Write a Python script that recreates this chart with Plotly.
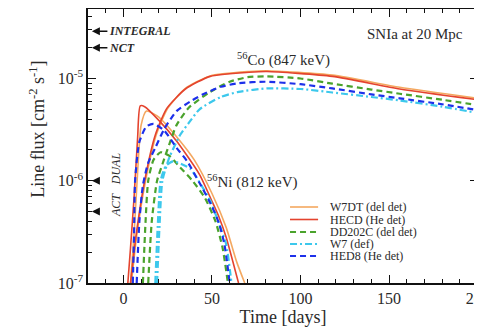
import math
import plotly.graph_objects as go

# ---------------- data ----------------
# W7DT (del det) - orange solid
w7dt_ni_t = [4, 6, 8, 10, 13, 20, 30, 40, 50, 58, 64, 68.5]
w7dt_ni_f = [1.0e-7, 3.0e-7, 1.2e-6, 3.5e-6, 4.8e-6, 4.2e-6, 2.7e-6, 1.6e-6, 7.5e-7, 3.5e-7, 1.6e-7, 1.0e-7]
w7dt_co_t = [4.5, 7.5, 12.5, 18.5, 25, 35, 49, 71, 81, 118, 156, 200]
w7dt_co_f = [1.0e-7, 2.9e-7, 1.0e-6, 2.8e-6, 5.1e-6, 8.0e-6, 1.06e-5, 1.17e-5, 1.19e-5, 1.08e-5, 8.2e-6, 6.4e-6]

# HECD (He det) - red solid
hecd_ni_t = [2.5, 4, 6, 8, 9.5, 12, 20, 30, 43, 50, 54, 58, 63, 65]
hecd_ni_f = [1.0e-7, 2.2e-7, 6.8e-7, 2.6e-6, 5.4e-6, 5.3e-6, 3.9e-6, 2.45e-6, 1.15e-6, 6.3e-7, 4.4e-7, 2.8e-7, 1.35e-7, 1.0e-7]
hecd_co_t = [4, 7, 12, 18, 24.5, 35, 49, 71, 81, 118, 156, 200]
hecd_co_f = [1.0e-7, 2.8e-7, 1.0e-6, 2.8e-6, 5.1e-6, 7.9e-6, 1.05e-5, 1.15e-5, 1.17e-5, 1.05e-5, 7.9e-6, 6.2e-6]

# DD202C (del det) - green dashed
dd_ni_t = [11, 12.5, 14, 17, 21, 26, 32, 39, 46, 52, 56, 59]
dd_ni_f = [1.0e-7, 4.0e-7, 1.0e-6, 1.6e-6, 1.9e-6, 1.75e-6, 1.35e-6, 1.0e-6, 6.8e-7, 4.0e-7, 2.2e-7, 1.0e-7]
dd_co_t = [14, 16, 19, 22, 26, 30, 37, 49, 60, 70, 81, 100, 118, 140, 156, 180, 200]
dd_co_f = [1.0e-7, 4.0e-7, 1.0e-6, 1.45e-6, 2.3e-6, 3.5e-6, 5.2e-6, 7.4e-6, 9.3e-6, 1.03e-5, 1.05e-5, 1.0e-5, 8.9e-6, 7.8e-6, 7.1e-6, 6.2e-6, 5.5e-6]

# W7 (def) - cyan dash-dot
w7_ni_t = [18, 19.5, 21, 24, 28, 33, 38, 44, 49, 54, 58, 61]
w7_ni_f = [1.0e-7, 4.0e-7, 1.0e-6, 1.4e-6, 1.55e-6, 1.45e-6, 1.3e-6, 9.0e-7, 6.4e-7, 3.8e-7, 2.4e-7, 1.0e-7]
w7_co_t = [19, 20.5, 22, 26, 32, 37, 43, 55, 65, 81, 100, 118, 140, 156, 180, 200]
w7_co_f = [1.0e-7, 4.0e-7, 1.0e-6, 1.7e-6, 2.8e-6, 3.7e-6, 5.0e-6, 6.6e-6, 7.4e-6, 8.0e-6, 7.9e-6, 7.3e-6, 6.6e-6, 6.1e-6, 5.3e-6, 4.6e-6]

# HED8 (He det) - blue dashed
hed8_ni_t = [5.3, 6, 6.6, 9, 13, 17, 23, 30, 36, 43, 50, 54, 57, 60]
hed8_ni_f = [1.0e-7, 3.0e-7, 1.0e-6, 2.4e-6, 3.4e-6, 3.6e-6, 3.1e-6, 2.1e-6, 1.55e-6, 9.5e-7, 5.6e-7, 3.8e-7, 2.4e-7, 1.0e-7]
hed8_co_t = [7.5, 9, 11, 14, 18, 23, 30, 38, 45, 55, 65, 80, 100, 118, 140, 156, 180, 200]
hed8_co_f = [1.0e-7, 4.0e-7, 9.0e-7, 1.5e-6, 2.1e-6, 3.2e-6, 4.8e-6, 6.0e-6, 7.0e-6, 8.3e-6, 9.0e-6, 9.3e-6, 8.8e-6, 8.0e-6, 7.0e-6, 6.4e-6, 5.6e-6, 4.9e-6]

model_names = ["W7DT (del det)", "HECD (He det)", "DD202C (del det)", "W7 (def)", "HED8 (He det)"]

# instrument sensitivity markers (flux levels)
instr_names = ["INTEGRAL", "NCT", "DUAL", "ACT"]
instr_flux = [2.9e-5, 2.0e-5, 1.0e-6, 5.0e-7]

x_ticks = [0, 50, 100, 150, 200]
y_ticks = [1e-7, 1e-6, 1e-5]
y_ticktext = ["10<sup>-7</sup>", "10<sup>-6</sup>", "10<sup>-5</sup>"]

# ---------------- styles ----------------
styles = [
    dict(color="#f4a860", width=1.6, dash="solid"),
    dict(color="#e4432e", width=1.6, dash="solid"),
    dict(color="#4aa32c", width=2.2, dash="6px,4px"),
    dict(color="#3cc8ec", width=2.2, dash="7px,3px,2px,3px"),
    dict(color="#1d30ea", width=2.2, dash="6px,4px"),
]
series = [
    (w7dt_ni_t, w7dt_ni_f, w7dt_co_t, w7dt_co_f),
    (hecd_ni_t, hecd_ni_f, hecd_co_t, hecd_co_f),
    (dd_ni_t, dd_ni_f, dd_co_t, dd_co_f),
    (w7_ni_t, w7_ni_f, w7_co_t, w7_co_f),
    (hed8_ni_t, hed8_ni_f, hed8_co_t, hed8_co_f),
]

FONT = "Liberation Serif"
TXT = "#2a2a2a"

fig = go.Figure()
for name, st, (nt, nf, ct, cf) in zip(model_names, styles, series):
    for t, f in ((nt, nf), (ct, cf)):
        fig.add_trace(go.Scatter(
            x=t, y=f, mode="lines", name=name, showlegend=False,
            line=dict(color=st["color"], width=st["width"], dash=st["dash"],
                      shape="spline", smoothing=0.6),
        ))

axis_common = dict(
    showline=True, linecolor="#111", linewidth=1.6, mirror="allticks",
    ticks="inside", tickcolor="#111", tickwidth=1.4, ticklen=8,
    showgrid=False, zeroline=False, automargin=False,
    tickfont=dict(family=FONT, size=16, color=TXT),
)

fig.update_xaxes(range=[-20, 200.2], tickvals=x_ticks, ticklabeloverflow="allow",
                 minor=dict(ticks="inside", ticklen=4, dtick=10, tickcolor="#111", tickwidth=1.2),
                 title=dict(text="Time [days]", font=dict(family=FONT, size=18, color=TXT), standoff=0),
                 **axis_common)

minor_y = [m * 10.0 ** e for e in (-7, -6, -5) for m in range(2, 10)]
fig.update_yaxes(type="log", range=[-7.0, -4.32], tickvals=y_ticks, ticktext=y_ticktext,
                 minor=dict(ticks="inside", ticklen=4, tickvals=minor_y, tickcolor="#111", tickwidth=1.2),
                 **axis_common)

ann = []
ann.append(dict(text="Line flux [cm<sup>-2</sup> s<sup>-1</sup>]", xref="paper", yref="paper",
                x=-0.13, y=0.56, xanchor="center", yanchor="middle", textangle=-90, showarrow=False,
                font=dict(family=FONT, size=18, color=TXT)))
ann.append(dict(text="SNIa at 20 Mpc", xref="paper", yref="paper", x=0.967, y=0.909,
                xanchor="right", yanchor="middle", showarrow=False,
                font=dict(family=FONT, size=15, color=TXT)))
ann.append(dict(text="<sup>56</sup>Co (847 keV)", xref="paper", yref="paper", x=0.50, y=0.815,
                xanchor="center", yanchor="middle", showarrow=False,
                font=dict(family=FONT, size=15, color=TXT)))
ann.append(dict(text="<sup>56</sup>Ni (812 keV)", xref="paper", yref="paper", x=0.30, y=0.37,
                xanchor="left", yanchor="middle", showarrow=False,
                font=dict(family=FONT, size=15, color=TXT)))

# horizontal instruments
for nm, fl in zip(instr_names[:2], instr_flux[:2]):
    ann.append(dict(text="", x=-17.8, y=math.log10(fl), xref="x", yref="y", showarrow=True,
                    ax=17, ay=0, arrowhead=2, arrowsize=1, arrowwidth=1.6, arrowcolor="#111"))
    ann.append(dict(text="<i><b>" + nm + "</b></i>", x=-9.5, y=math.log10(fl), xref="x", yref="y",
                    xanchor="left", yanchor="middle", showarrow=False,
                    font=dict(family=FONT, size=12, color=TXT)))
# vertical-text instruments
for nm, fl, dy in zip(instr_names[2:], instr_flux[2:], [-12, -7]):
    ann.append(dict(text="", x=-17.8, y=math.log10(fl), xref="x", yref="y", showarrow=True,
                    ax=9, ay=0, arrowhead=2, arrowsize=1, arrowwidth=1.6, arrowcolor="#111"))
    ann.append(dict(text="<i>" + nm + "</i>", x=-4.5, y=math.log10(fl), xref="x", yref="y",
                    xanchor="center", yanchor="middle", yshift=-dy, showarrow=False, textangle=-90,
                    font=dict(family=FONT, size=12, color=TXT)))

# manual compact legend
shapes = []
row_py = [207, 219.5, 232, 244, 256]
for name, st, py in zip(model_names, styles, row_py):
    yp = (283 - py) / 274
    shapes.append(dict(type="line", xref="paper", yref="paper", x0=0.518, x1=0.59, y0=yp, y1=yp,
                       line=dict(color=st["color"], width=st["width"], dash=st["dash"])))
    ann.append(dict(text=name, xref="paper", yref="paper", x=0.615, y=yp, xanchor="left",
                    yanchor="middle", showarrow=False, font=dict(family=FONT, size=12, color=TXT)))

# the page body adds an 8px offset, so the figure is sized to fit 482x329 from there
fig.update_layout(
    width=474, height=321, margin=dict(l=80, r=4, t=1, b=46),
    paper_bgcolor="white", plot_bgcolor="white",
    annotations=ann, shapes=shapes, showlegend=False,
)

fig.write_html("out.html")
